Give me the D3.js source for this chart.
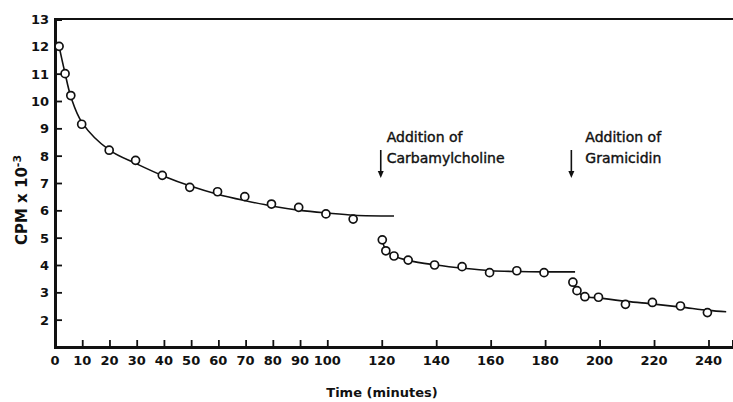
<!DOCTYPE html>
<html lang="en">
<head>
<meta charset="UTF-8">
<title>CPM vs time</title>
<script src="https://d3js.org/d3.v7.min.js"></script>
<style>
    body, html { margin: 0; padding: 0; background: #fff; }
    svg { display: block; }
    .tick-label { font: bold 13px "DejaVu Sans", sans-serif; fill: #111; }
    .note { font: 14px "DejaVu Sans", sans-serif; fill: #111; stroke: #111; stroke-width: 0.4px; }
    .axis-title { font: bold 13px "DejaVu Sans", sans-serif; fill: #111; }
</style>
</head>
<body>
<div id="chart"></div>
<script>
// measured points (time in minutes, CPM x 10^-3)
const seg1Time = [1.5, 3.7, 5.8, 9.8, 19.9, 29.6, 39.4, 49.5, 59.7, 69.7, 79.5, 89.5, 99.5, 109.5];
const seg1Cpm  = [12.0, 11.0, 10.2, 9.15, 8.2, 7.83, 7.28, 6.84, 6.68, 6.5, 6.23, 6.11, 5.87, 5.68];
const seg2Time = [120.2, 121.5, 124.5, 129.7, 139.4, 149.5, 159.6, 169.6, 179.6];
const seg2Cpm  = [4.92, 4.52, 4.33, 4.18, 4.0, 3.94, 3.72, 3.79, 3.72];
const seg3Time = [190.2, 191.7, 194.6, 199.6, 209.5, 219.4, 229.7, 239.6];
const seg3Cpm  = [3.37, 3.06, 2.84, 2.82, 2.56, 2.63, 2.5, 2.26];

// hand drawn fit curves
const fit1 = [[1.5, 12.0], [3.5, 11.1], [6, 10.1], [10, 9.2], [20, 8.2], [30, 7.7], [40, 7.25], [50, 6.88], [60, 6.58], [70, 6.35], [80, 6.15], [90, 6.0], [100, 5.9], [110, 5.82], [124.5, 5.79]];
const fit2 = [[120.2, 4.92], [121.5, 4.55], [124.5, 4.33], [130, 4.16], [140, 4.0], [150, 3.88], [160, 3.79], [170, 3.76], [180, 3.75], [191, 3.75]];
const fit3 = [[190.2, 3.37], [191.7, 3.05], [194.6, 2.86], [200, 2.79], [210, 2.67], [220, 2.57], [230, 2.46], [240, 2.34], [246.5, 2.29]];

const xTicks = [0, 10, 20, 30, 40, 50, 60, 70, 80, 90, 100, 120, 140, 160, 180, 200, 220, 240];
const yTicks = [1, 2, 3, 4, 5, 6, 7, 8, 9, 10, 11, 12, 13];

const notes = [
    { time: 120, lines: ["Addition of", "Carbamylcholine"], dx: 6 },
    { time: 190, lines: ["Addition of", "Gramicidin"], dx: 14 }
];

const width = 733, height = 402;

const svg = d3.select("#chart").append("svg")
    .attr("width", width)
    .attr("height", height);

const x = d3.scaleLinear().domain([0, 249]).range([55, 733]);
const y = d3.scaleLinear().domain([1, 13]).range([347, 19]);

// frame: left axis, bottom axis, top rule
svg.append("line")
    .attr("x1", x(0)).attr("x2", width)
    .attr("y1", y(13)).attr("y2", y(13))
    .attr("stroke", "#111").attr("stroke-width", 2);

const xAxis = d3.axisBottom(x).tickValues(xTicks).tickSize(-7).tickFormat("");
const gx = svg.append("g").attr("transform", `translate(0,${y(1)})`).call(xAxis);
gx.select(".domain").attr("stroke", "#111").attr("stroke-width", 3);
gx.selectAll(".tick line").attr("stroke", "#111").attr("stroke-width", 1.8);

const yAxis = d3.axisLeft(y).tickValues(yTicks).tickSize(-7).tickFormat("");
const gy = svg.append("g").attr("transform", `translate(${x(0)},0)`).call(yAxis);
gy.select(".domain").attr("stroke", "#111").attr("stroke-width", 3);
gy.selectAll(".tick line").attr("stroke", "#111").attr("stroke-width", 1.8);

// tick labels
svg.selectAll(".xlab").data(xTicks).enter().append("text")
    .attr("class", "tick-label")
    .attr("x", d => x(d))
    .attr("y", y(1) + 18)
    .attr("text-anchor", "middle")
    .text(d => d);

svg.selectAll(".ylab").data(yTicks.filter(d => d > 1)).enter().append("text")
    .attr("class", "tick-label")
    .attr("x", x(0) - 6)
    .attr("y", d => y(d) + 5)
    .attr("text-anchor", "end")
    .text(d => d);

// axis titles
svg.append("text")
    .attr("class", "axis-title")
    .attr("x", 382).attr("y", 397)
    .attr("text-anchor", "middle")
    .text("Time  (minutes)");

const yt = svg.append("text")
    .attr("class", "axis-title")
    .attr("font-size", 15)
    .style("font-size", "15px")
    .attr("transform", "translate(27,200) rotate(-90)")
    .attr("text-anchor", "middle");
yt.append("tspan").text("CPM  x  10");
yt.append("tspan").attr("dy", -6).style("font-size", "11px").text("-3");

// fit curves
const line = d3.line()
    .x(d => x(d[0]))
    .y(d => y(d[1]))
    .curve(d3.curveCatmullRom);

[fit1, fit2, fit3].forEach(f => {
    svg.append("path")
        .attr("d", line(f))
        .attr("fill", "none")
        .attr("stroke", "#111")
        .attr("stroke-width", 1.6);
});

// data points
const points = []
    .concat(seg1Time.map((t, i) => [t, seg1Cpm[i]]))
    .concat(seg2Time.map((t, i) => [t, seg2Cpm[i]]))
    .concat(seg3Time.map((t, i) => [t, seg3Cpm[i]]));

svg.selectAll(".pt").data(points).enter().append("circle")
    .attr("cx", d => x(d[0]))
    .attr("cy", d => y(d[1]))
    .attr("r", 4)
    .attr("fill", "#fff")
    .attr("stroke", "#111")
    .attr("stroke-width", 1.7);

// annotations
notes.forEach(n => {
    const ax = x(n.time) - 1;
    svg.append("line")
        .attr("x1", ax).attr("x2", ax)
        .attr("y1", 150).attr("y2", 172)
        .attr("stroke", "#111").attr("stroke-width", 1.6);
    svg.append("path")
        .attr("d", `M${ax - 3},171 L${ax + 3},171 L${ax},178 Z`)
        .attr("fill", "#111");
    n.lines.forEach((s, i) => {
        svg.append("text")
            .attr("class", "note")
            .attr("x", ax + n.dx)
            .attr("y", 142 + i * 21)
            .text(s);
    });
});
</script>
</body>
</html>
